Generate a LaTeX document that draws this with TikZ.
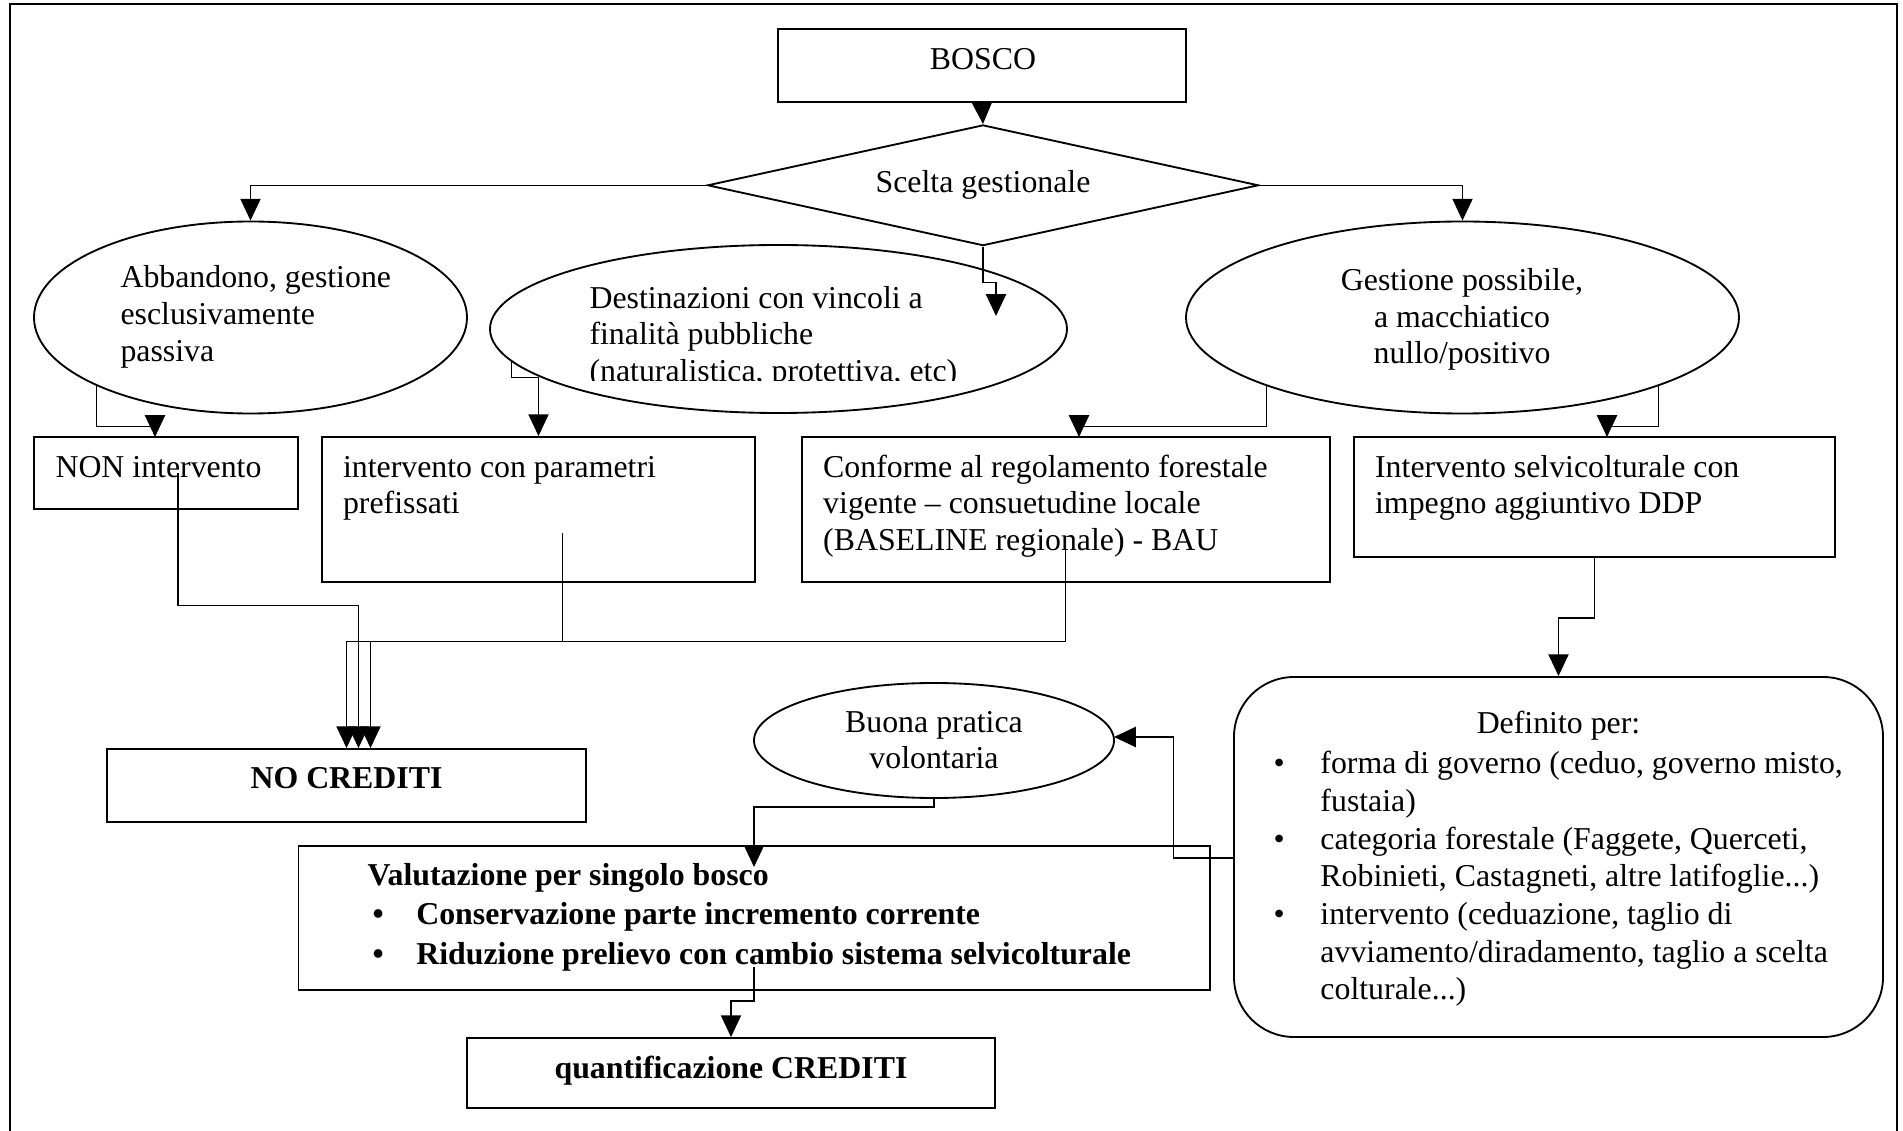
\documentclass[tikz,border=0pt]{standalone}
\usepackage{fontspec}
\setmainfont{Liberation Serif}
\usetikzlibrary{shapes.geometric,arrows.meta,fit,calc}
\newcommand\pxu{0.377pt}
\newcommand\bodyfont{\fontsize{12}{13.8}\selectfont}
\begin{document}
\begin{tikzpicture}[x=0.377pt,y=-0.377pt,
  box/.style={draw, line width=0.7pt, rectangle, inner sep=0pt},
  oval/.style 2 args={draw, line width=0.7pt, ellipse, inner sep=0pt,
    minimum width=#1*\pxu, minimum height=#2*\pxu},
  lbl/.style={inner sep=0pt, align=left, anchor=north west, font=\bodyfont},
  clbl/.style={inner sep=0pt, align=center, anchor=north, font=\bodyfont},
  one/.style={inner sep=0pt, anchor=base, font=\bodyfont},
  link/.style={line width=0.55pt, -{Triangle[length=8.2pt,width=7.6pt]}}]

\useasboundingbox (0,0) rectangle (1903,1131);

% outer frame (open at the bottom)
\draw[line width=0.6pt] (10,1150) -- (10,4) -- (1897,4) -- (1897,1150);

% ---------- top: wood and management choice ----------
\node[box, fit={(778,29.3) (1186,101.7)}] (bosco) {};
\node[one] (tbosco) at (983,70) {BOSCO};

\node[draw, line width=0.7pt, diamond, aspect=4.5, inner sep=0pt,
  minimum width=551*\pxu, minimum height=120.7*\pxu, font=\bodyfont]
  (scelta) at (983,185.3) {Scelta gestionale};

% ---------- three management options ----------
\node[oval={433}{192}] (abb) at (250.5,317.5) {};
\node[lbl] (tabb) at (120,261.7) {\strut Abbandono, gestione\\esclusivamente\\passiva};

\node[oval={577}{168}] (dest) at (778.5,329) {};
\begin{scope}
  \clip (480,240) rectangle (1080,380.5);
  \node[lbl] (tdest) at (589,282)
    {\strut Destinazioni con vincoli a\\finalità pubbliche\\(naturalistica, protettiva, etc)};
\end{scope}

\node[oval={553}{192}] (gest) at (1462.5,317.5) {};
\node[clbl] (tgest) at (1462,264.4) {\strut Gestione possibile,\\a macchiatico\\nullo/positivo};

% ---------- interventions ----------
\node[box, fit={(34,437) (298,509)}] (non) {};
\node[lbl] (tnon) at (55,451) {\strut NON intervento};

\node[box, fit={(322,437) (755,582)}] (param) {};
\node[lbl] (tparam) at (342.5,451) {\strut intervento con parametri\\prefissati};

\node[box, fit={(802,437) (1330,582)}] (conf) {};
\node[lbl] (tconf) at (822.7,451)
  {\strut Conforme al regolamento forestale\\vigente – consuetudine locale\\(BASELINE regionale) - BAU};

\node[box, fit={(1354,437) (1835,557)}] (sel) {};
\node[lbl] (tsel) at (1374.6,451) {\strut Intervento selvicolturale con\\impegno aggiuntivo DDP};

% ---------- lower part ----------
\node[box, fit={(107,749) (586,822)}] (nocr) {};
\node[one, font=\bodyfont\bfseries] (tnocr) at (346.5,788.3) {NO CREDITI};

\node[oval={360}{115}] (buona) at (934,740.5) {};
\node[clbl] (tbuona) at (934,706) {\strut Buona pratica\\volontaria};

\node[box, rounded corners=22.6pt, fit={(1234,677) (1883,1037)}] (defi) {};
\node[one] (tdefi) at (1558.5,733.3) {Definito per:};
\node[lbl, font=\fontsize{12}{14.2}\selectfont] (tdefilist) at (1273,746.9)
  {\strut\makebox[17.7pt][l]{•}forma di governo (ceduo, governo misto,\\
   \hspace*{17.7pt}fustaia)\\
   \makebox[17.7pt][l]{•}categoria forestale (Faggete, Querceti,\\
   \hspace*{17.7pt}Robinieti, Castagneti, altre latifoglie...)\\
   \makebox[17.7pt][l]{•}intervento (ceduazione, taglio di\\
   \hspace*{17.7pt}avviamento/diradamento, taglio a scelta\\
   \hspace*{17.7pt}colturale...)};

\node[box, fit={(298.5,846) (1210,990)}] (valut) {};
\node[lbl, font=\fontsize{12}{14.8}\selectfont\bfseries] (tvalut) at (367,857.5)
  {\strut Valutazione per singolo bosco\\
   \hspace*{1.9pt}\makebox[16.5pt][l]{•}Conservazione parte incremento corrente\\
   \hspace*{1.9pt}\makebox[16.5pt][l]{•}Riduzione prelievo con cambio sistema selvicolturale};

\node[box, fit={(467,1038) (995,1108)}] (quant) {};
\node[one, font=\bodyfont\bfseries] (tquant) at (731,1078.3) {quantificazione CREDITI};

% ---------- connector end points ----------
\coordinate (dtip) at (996,316);
\coordinate (nf) at (155,437);
\coordinate (cf) at (1079,437);
\coordinate (sf) at (1607,437);
\coordinate (n1) at (178,473);
\coordinate (p1) at (562.5,533);
\coordinate (c1) at (1065.5,548.5);
\coordinate (dleft) at (1234,858);
\coordinate (btip) at (1114,737);
\coordinate (vtip) at (754,867);
\coordinate (v1) at (754,967);

% ---------- connectors ----------
\draw[link] (bosco.south) -- (scelta.north);
\draw[link] (scelta.west) -| (abb.north);
\draw[link] (scelta.east) -| (gest.north);
\draw[link] (scelta.south) -- ++(0,36) -| (dtip);

\draw[link] (abb.south west) -- ++(0,40.6) -| (nf);
\draw[link] (dest.187) -- ++(0,15.5) -| (param.north);
\draw[link] (gest.south west) -- ++(0,40.6) -| (cf);
\draw[link] (gest.south east) -- ++(0,40.6) -| (sf);

\draw[link] (n1) -- (178,605.7) -| ($(nocr.north)+(12,0)$);
\draw[link] (p1) -- (562.5,641.7) -| (nocr.north);
\draw[link] (c1) -- (1065.5,641.7) -| ($(nocr.north)+(24,0)$);

\draw[link] (sel.south) -- ++(0,60) -| (defi.north);
\draw[link] (dleft) -- ++(-60.5,0) |- (btip);
\draw[link] (buona.south) -- ++(0,8) -| (vtip);
\draw[link] (v1) -- ++(0,34) -| (quant.north);
\end{tikzpicture}
\end{document}
